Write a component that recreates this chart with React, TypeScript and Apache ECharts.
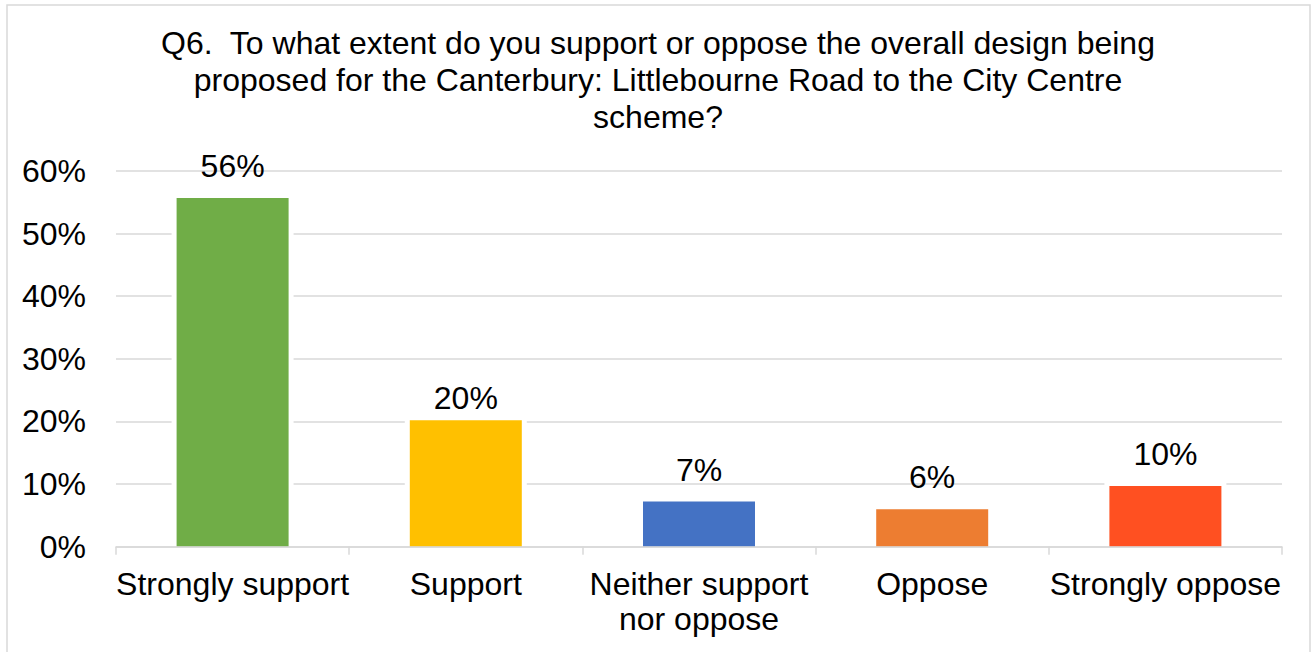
import React, { useEffect, useRef } from "react";
import * as echarts from "echarts";

const titleLines = [
  "Q6.  To what extent do you support or oppose the overall design being",
  "proposed for the Canterbury: Littlebourne Road to the City Centre",
  "scheme?",
];
const categories = [
  "Strongly support",
  "Support",
  "Neither support\nnor oppose",
  "Oppose",
  "Strongly oppose",
];
const values = [55.7, 20.2, 7.2, 6.0, 9.7];
const barColors = ["#70AD47", "#FFC000", "#4472C4", "#ED7D31", "#FF5021"];
const yTicks = { min: 0, max: 60, interval: 10 };

const FONT = "'Liberation Sans', Arial, sans-serif";
const FS = 32;
const labelDistance = [16, 6, 16, 16, 16];

export default function App() {
  const ref = useRef<HTMLDivElement>(null);
  useEffect(() => {
    if (!ref.current) return;
    const chart = echarts.init(ref.current, null, { renderer: "svg" });
    chart.setOption({
      animation: false,
      backgroundColor: "#fff",
      textStyle: { fontFamily: FONT },
      graphic: [
        {
          type: "rect",
          shape: { x: 7, y: 5, width: 1303, height: 700 },
          style: { fill: "none", stroke: "#d9d9d9", lineWidth: 1.5 },
          z: 0,
          silent: true,
        },
      ],
      title: {
        text: titleLines.join("\n"),
        left: 658,
        top: 24,
        padding: 0,
        textAlign: "center",
        textStyle: {
          fontFamily: FONT,
          fontSize: FS,
          fontWeight: "normal",
          color: "#000",
          lineHeight: 37,
        },
      },
      grid: { left: 116, right: 32, top: 171, bottom: 105.3, containLabel: false },
      xAxis: {
        type: "category",
        data: categories,
        z: 5,
        axisLine: { show: true, lineStyle: { color: "#d9d9d9", width: 1.5 } },
        axisTick: { show: true, length: 8, lineStyle: { color: "#d9d9d9", width: 1.5 } },
        axisLabel: {
          fontFamily: FONT,
          fontSize: FS,
          color: "#000",
          lineHeight: 35,
          margin: 19.5,
          interval: 0,
        },
      },
      yAxis: {
        type: "value",
        min: yTicks.min,
        max: yTicks.max,
        interval: yTicks.interval,
        axisLine: { show: false },
        axisTick: { show: false },
        axisLabel: {
          fontFamily: FONT,
          fontSize: FS,
          color: "#000",
          margin: 30,
          formatter: "{value}%",
        },
        splitLine: { lineStyle: { color: "#d9d9d9", width: 1.5 } },
      },
      series: [
        {
          type: "pictorialBar",
          symbol: "rect",
          symbolSize: [122, "100%"],
          symbolOffset: [0, -5],
          itemStyle: { color: "#fff" },
          silent: true,
          z: 2,
          data: values,
        },
        {
          type: "bar",
          barWidth: 112,
          z: 3,
          data: values.map((v, i) => ({
            value: v,
            itemStyle: { color: barColors[i] },
            label: { distance: labelDistance[i] },
          })),
          label: {
            show: true,
            position: "top",
            fontFamily: FONT,
            fontSize: FS,
            color: "#000",
            formatter: (p: any) => Math.round(p.value) + "%",
          },
        },
      ],
    });
    return () => chart.dispose();
  }, []);
  return (
    <div
      ref={ref}
      style={{ position: "absolute", left: 0, top: 0, width: 1314, height: 652 }}
    />
  );
}
